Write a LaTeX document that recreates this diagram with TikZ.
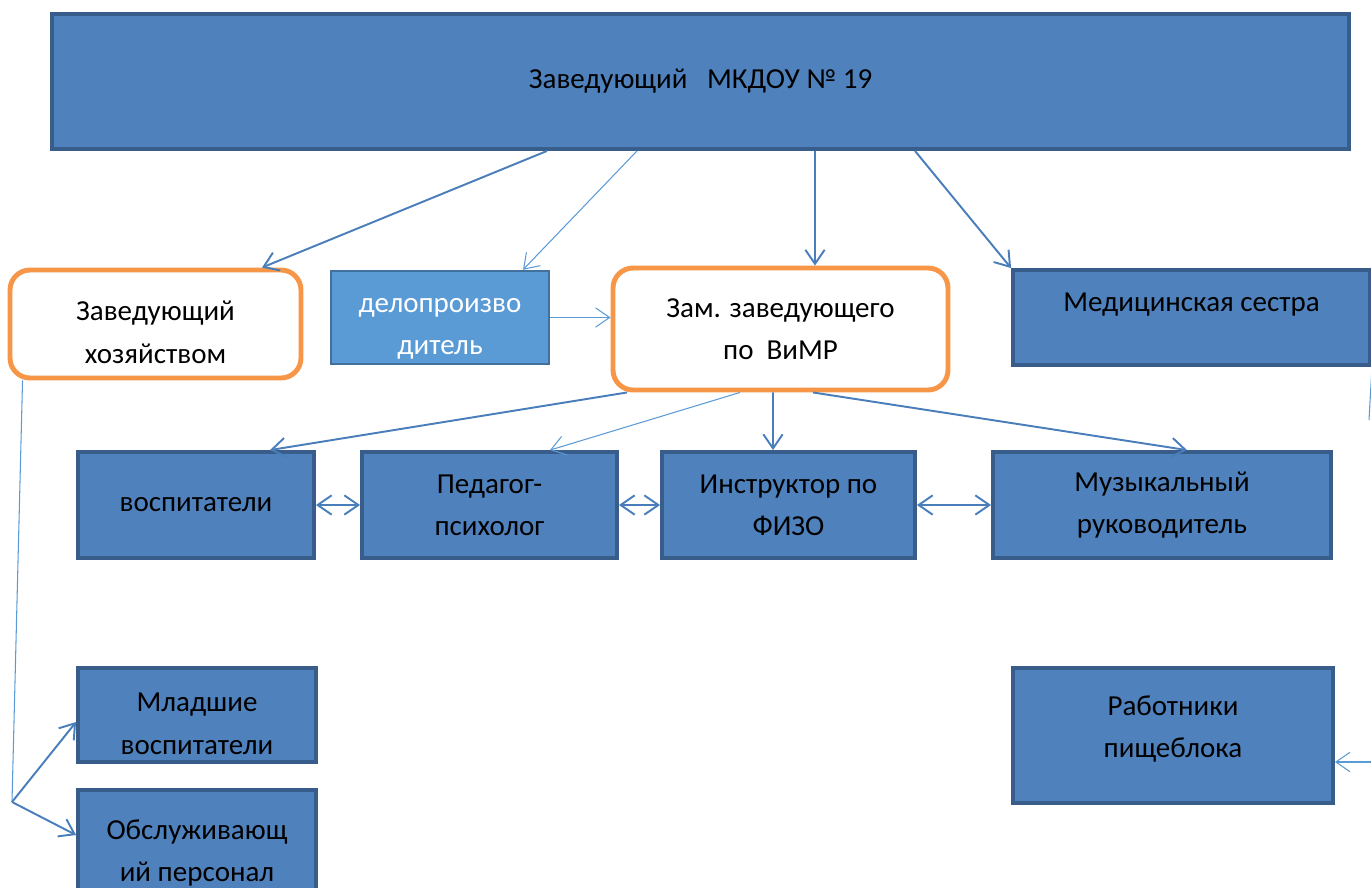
\documentclass[tikz,border=0pt]{standalone}
\usepackage{fontspec}
\setmainfont{Carlito}
\usetikzlibrary{arrows.meta}
\definecolor{boxfill}{HTML}{4F81BD}
\definecolor{boxline}{HTML}{385D8A}
\definecolor{orangeline}{HTML}{F79646}
\definecolor{lightfill}{HTML}{5B9BD5}
\definecolor{lightline}{HTML}{41719C}
\definecolor{linkcolor}{HTML}{4A7EBB}
\begin{document}
\begin{tikzpicture}[every node/.style={align=center,font=\fontsize{16.5}{24}\selectfont},
    low text/.style={inner ysep=0pt,text height=44.5pt},
    high text/.style={inner ysep=0pt,text height=27.5pt},
    blue box/.style={rectangle,draw=boxline,fill=boxfill,line width=2.2pt},
    orange box/.style={rectangle,rounded corners=0.4cm,draw=orangeline,fill=white,line width=2.8pt},
    light box/.style={rectangle,draw=lightline,fill=lightfill,line width=1.4pt,text=white},
    link/.style={draw=linkcolor,line width=1.1pt,-{Straight Barb[length=8pt,width=11pt]}},
    thin link/.style={draw=lightfill,line width=0.6pt,-{Straight Barb[length=8pt,width=11pt]}},
    both link/.style={link,{Straight Barb[length=8pt,width=11pt]}-{Straight Barb[length=8pt,width=11pt]}}]
    \path[use as bounding box] (0,0) rectangle (27.42,-17.74);
    \clip (0,0) rectangle (27.42,-17.74);
    % head
    \node[blue box,minimum width=25.94cm,minimum height=2.7cm] (head) at (14.01,-1.63) {Заведующий~~~МКДОУ №~19};
    % second row
    \node[orange box,low text,minimum width=5.82cm,minimum height=2.16cm] (zavhoz) at (3.11,-6.48) {Заведующий\\хозяйством};
    \node[light box,low text,minimum width=4.36cm,minimum height=1.86cm] (delo) at (8.8,-6.35) {делопроизво\\дитель};
    \node[orange box,minimum width=6.7cm,minimum height=2.44cm] (zam) at (15.61,-6.58) {Зам. заведующего\\по~~ВиМР};
    \node[blue box,minimum width=7.14cm,minimum height=1.9cm,text depth=0.6cm] (med) at (23.83,-6.35) {Медицинская сестра};
    % third row
    \node[blue box,minimum width=4.72cm,minimum height=2.12cm] (vosp) at (3.92,-10.1) {воспитатели};
    \node[blue box,minimum width=5.1cm,minimum height=2.12cm] (psych) at (9.79,-10.1) {Педагог-\\психолог};
    \node[blue box,minimum width=5.06cm,minimum height=2.12cm] (fizo) at (15.77,-10.1) {Инструктор по\\ФИЗО};
    \node[blue box,minimum width=6.76cm,minimum height=2.12cm] (muz) at (23.24,-10.1) {Музыкальный\\руководитель};
    % bottom
    \node[blue box,low text,minimum width=4.76cm,minimum height=1.88cm] (mlad) at (3.94,-14.3) {Младшие\\воспитатели};
    \node[blue box,low text,minimum width=4.76cm,minimum height=2.2cm] (obsl) at (3.94,-16.9) {Обслуживающ\\ий персонал};
    \node[blue box,high text,minimum width=6.4cm,minimum height=2.7cm] (kitchen) at (23.46,-14.71) {Работники\\пищеблока};
    \coordinate (fork) at (0.24,-16.04);
    \coordinate (medend) at (27.38,-8.4);
    \coordinate (kitchenin) at (27.42,-15.24);
    % links
    \draw[link] ([xshift=-3.07cm]head.south) -- ([xshift=2.13cm]zavhoz.north);
    \draw[thin link] ([xshift=-1.27cm]head.south) -- ([xshift=1.66cm]delo.north);
    \draw[link] ([xshift=2.29cm]head.south) -- ([xshift=0.69cm]zam.north);
    \draw[link] ([xshift=4.29cm]head.south) -- (med.north west);
    \draw[thin link] (delo.east) -- (delo.east -| zam.west);
    \draw[link] ([xshift=-3.07cm]zam.south) -- ([xshift=1.48cm]vosp.north);
    \draw[thin link] ([xshift=-0.81cm]zam.south) -- ([xshift=1.21cm]psych.north);
    \draw[link] ([xshift=-0.15cm]zam.south) -- ([xshift=-0.31cm]fizo.north);
    \draw[link] ([xshift=0.65cm]zam.south) -- ([xshift=0.5cm]muz.north);
    \draw[both link] (vosp) -- (psych);
    \draw[both link] (psych) -- (fizo);
    \draw[both link] (fizo) -- (muz);
    \draw[draw=lightfill,line width=0.6pt] ([xshift=0.3cm]zavhoz.south west) -- (fork);
    \draw[link] (fork) -- ([yshift=-0.14cm]mlad.west);
    \draw[link] (fork) -- ([yshift=0.2cm]obsl.west);
    \draw[draw=lightfill,line width=0.6pt] (med.south east) -- (medend);
    \draw[thin link] (kitchenin) -- ([yshift=-0.53cm]kitchen.east);
\end{tikzpicture}
\end{document}
